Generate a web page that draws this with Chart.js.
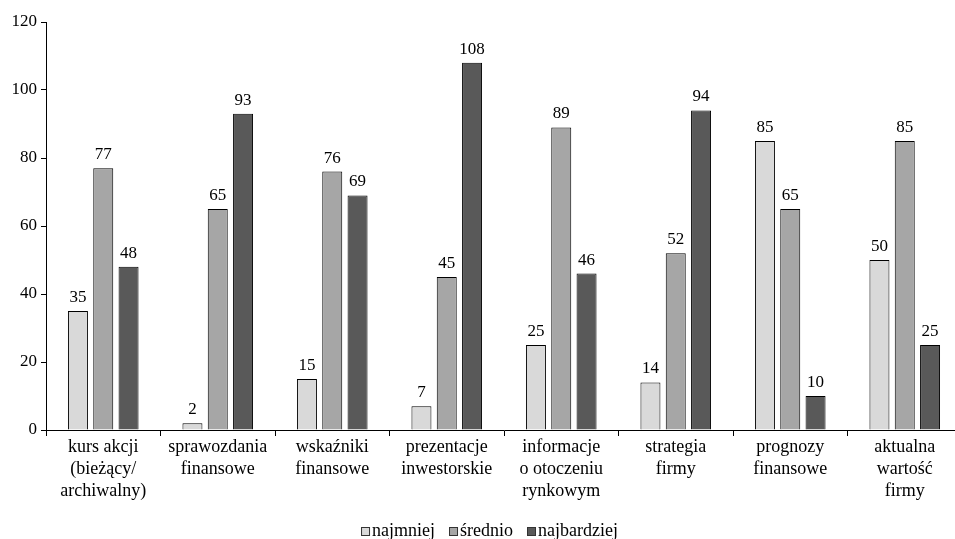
<!DOCTYPE html>
<html><head><meta charset="utf-8">
<script src="https://cdn.jsdelivr.net/npm/chart.js@4"></script>
<style>html,body{margin:0;padding:0;overflow:hidden;background:#fff;font-family:"Liberation Serif",serif}#wrap{width:962px;height:539px;position:relative}.pre{position:absolute;left:-9999px;font-family:"Liberation Serif";}</style>
</head><body><span class="pre">ąęśćżźół 0123</span><div id="wrap"><canvas id="c"></canvas></div>
<script>
const categories = [
  ["kurs akcji","(bieżący/","archiwalny)"],
  ["sprawozdania","finansowe"],
  ["wskaźniki","finansowe"],
  ["prezentacje","inwestorskie"],
  ["informacje","o otoczeniu","rynkowym"],
  ["strategia","firmy"],
  ["prognozy","finansowe"],
  ["aktualna","wartość","firmy"]
];
const seriesNames = ["najmniej","średnio","najbardziej"];
const najmniej = [35, 2, 15, 7, 25, 14, 85, 50];
const srednio = [77, 65, 76, 45, 89, 52, 65, 85];
const najbardziej = [48, 93, 69, 108, 46, 94, 10, 25];
const yTicks = [0, 20, 40, 60, 80, 100, 120];
const colors = ["#d9d9d9", "#a6a6a6", "#595959"];

const FONT = '"Liberation Serif", serif';
Chart.defaults.font.family = FONT;

const labelPlugin = {
  id: 'valLabels',
  afterDatasetsDraw(chart) {
    const ctx = chart.ctx;
    ctx.save();
    ctx.font = '17px "Liberation Serif", serif';
    ctx.fillStyle = "#000";
    ctx.textAlign = "center";
    ctx.textBaseline = "alphabetic";
    chart.data.datasets.forEach((ds, i) => {
      const meta = chart.getDatasetMeta(i);
      meta.data.forEach((bar, j) => {
        ctx.fillText(String(ds.data[j]), bar.x, bar.y - 9);
      });
    });
    ctx.restore();
  }
};

const legendPlugin = {
  id: 'customLegend',
  afterDraw(chart) {
    const ctx = chart.ctx;
    ctx.save();
    ctx.font = '18px "Liberation Serif", serif';
    ctx.textBaseline = "alphabetic";
    ctx.textAlign = "left";
    const box = 9, gapBox = 2, gapItem = 14;
    const items = chart.data.datasets.map(ds => ({ text: ds.label, color: ds.backgroundColor, w: ctx.measureText(ds.label).width }));
    let total = 0;
    items.forEach((it, i) => { total += box + gapBox + it.w + (i < items.length - 1 ? gapItem : 0); });
    let x = 489.5 - total / 2;
    const base = 536;
    items.forEach(it => {
      ctx.fillStyle = it.color;
      ctx.fillRect(x + 0.5, base - 9 + 0.5, box - 1, box - 1);
      ctx.strokeStyle = "#333";
      ctx.lineWidth = 1;
      ctx.strokeRect(x + 0.5, base - 9 + 0.5, box - 1, box - 1);
      ctx.fillStyle = "#000";
      ctx.fillText(it.text, x + box + gapBox, base);
      x += box + gapBox + it.w + gapItem;
    });
    ctx.restore();
  }
};

function draw() {
new Chart(document.getElementById('c'), {
  type: 'bar',
  data: {
    labels: categories,
    datasets: [najmniej, srednio, najbardziej].map((d, i) => ({
      label: seriesNames[i],
      data: d,
      backgroundColor: colors[i],
      borderColor: "#000",
      borderWidth: 1,
      borderSkipped: 'bottom',
      categoryPercentage: 0.663,
      barPercentage: 0.79
    }))
  },
  options: {
    responsive: true,
    maintainAspectRatio: false,
    animation: false,
    layout: { padding: { top: 22, right: 0, left: 0, bottom: 0 } },
    plugins: {
      tooltip: { enabled: false },
      legend: { display: false }
    },
    scales: {
      x: {
        offset: true,
        grid: { display: true, offset: true, drawOnChartArea: false, drawTicks: true, tickLength: 6, color: "#000", lineWidth: 1 },
        border: { display: true, color: "#000", width: 1 },
        ticks: { font: { family: FONT, size: 18, lineHeight: 1.22 }, color: "#000", maxRotation: 0, autoSkip: false, padding: 0 },
        afterFit(scale) { scale.height = 109; }
      },
      y: {
        min: 0, max: 120,
        afterBuildTicks(scale) { scale.ticks = yTicks.map(v => ({ value: v })); },
        grid: { display: true, drawOnChartArea: false, drawTicks: true, tickLength: 5, color: "#000", lineWidth: 1 },
        border: { display: true, color: "#000", width: 1 },
        ticks: { font: { family: FONT, size: 17 }, color: "#000", padding: 4 },
        afterFit(scale) { scale.width = 46; }
      }
    }
  },
  plugins: [labelPlugin, legendPlugin]
});
}
if (document.fonts && document.fonts.load) {
  Promise.all([document.fonts.load('17px "Liberation Serif"'), document.fonts.load('18px "Liberation Serif"')]).then(draw, draw);
} else { draw(); }
</script></body></html>
